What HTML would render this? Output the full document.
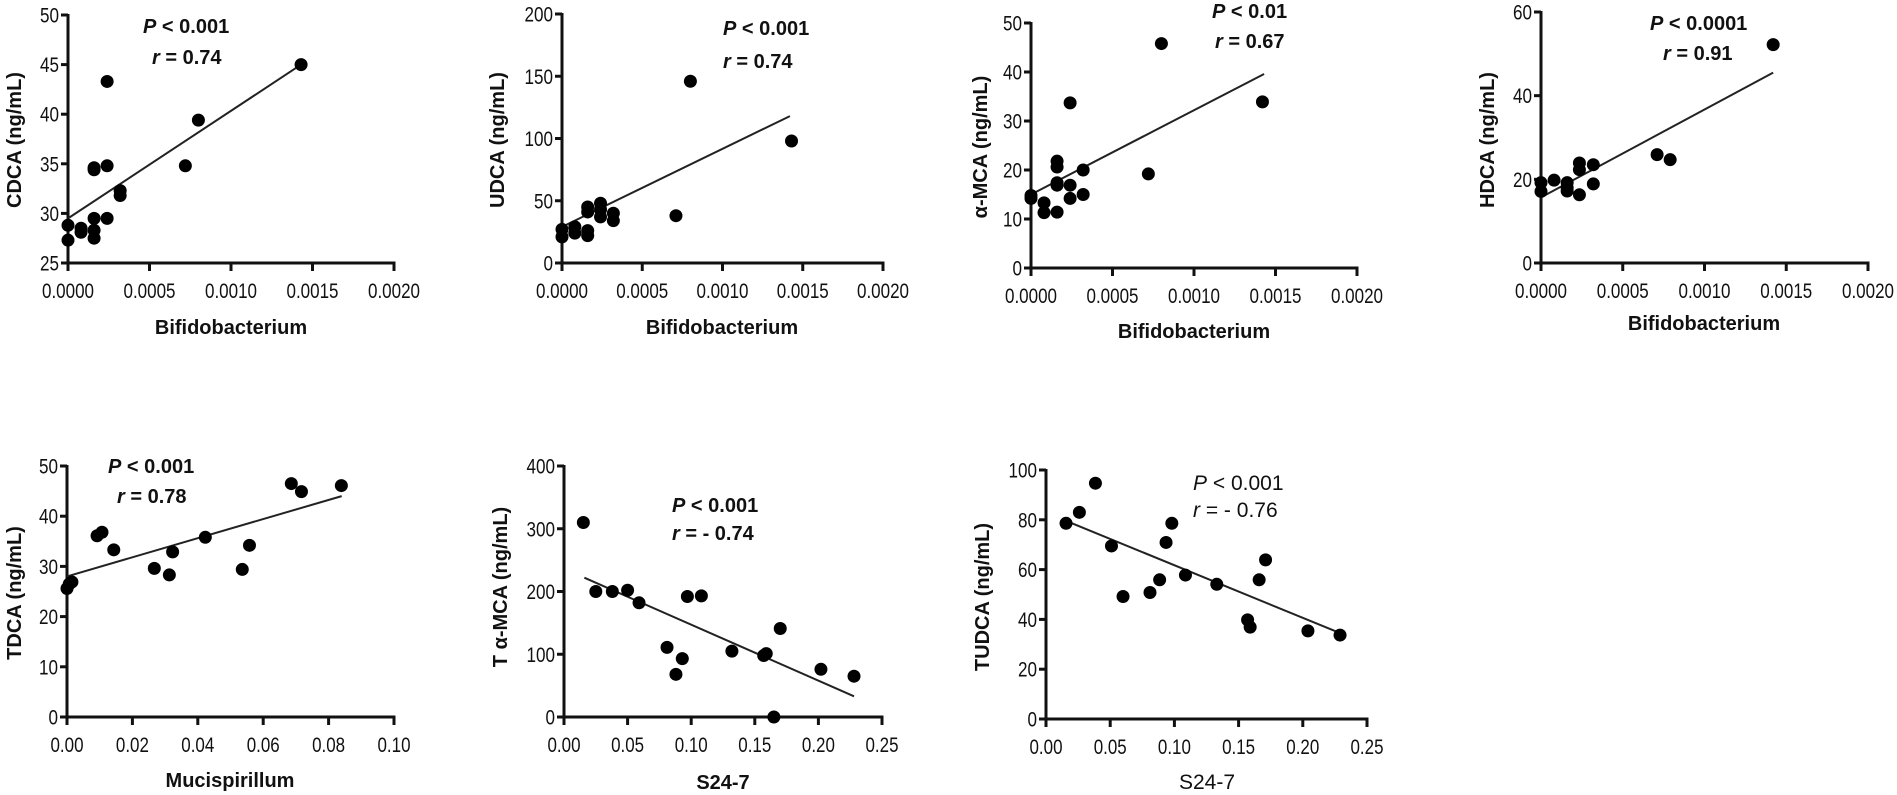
<!DOCTYPE html>
<html><head><meta charset="utf-8"><style>
html,body{margin:0;padding:0;background:#fff;}
svg{display:block;}
.t{font-family:"Liberation Sans Narrow","Liberation Sans",sans-serif;font-size:21px;fill:#111;}
.l{font-family:"Liberation Sans",sans-serif;font-size:20px;font-weight:bold;fill:#111;}
.s{font-family:"Liberation Sans",sans-serif;font-size:20px;font-weight:bold;fill:#111;}
.n{font-family:"Liberation Sans",sans-serif;font-size:21px;fill:#111;}
</style></head><body>
<svg id="c" width="1897" height="795" xmlns="http://www.w3.org/2000/svg"></svg>
<script>
var svg=document.getElementById('c'),h='';
function tl(s){var w=0;for(var i=0;i<s.length;i++)w+=(s[i]=='.'?4.5:9.5);return w;}
function P(o){
 var W=o.x1-o.x0,H=o.yb-o.yt;
 function X(v){return o.x0+(v-o.xmin)/(o.xmax-o.xmin)*W;}
 function Y(v){return o.yb-(v-o.ymin)/(o.ymax-o.ymin)*H;}
 h+='<line x1="'+o.x0+'" y1="'+(o.yt-1)+'" x2="'+o.x0+'" y2="'+(o.yb+1.5)+'" stroke="#111" stroke-width="3"/>';
 h+='<line x1="'+(o.x0-1.5)+'" y1="'+o.yb+'" x2="'+(o.x1+1.5)+'" y2="'+o.yb+'" stroke="#111" stroke-width="3"/>';
 o.yt_.forEach(function(v){var y=Y(v),s=''+v;h+='<line x1="'+(o.x0-7)+'" y1="'+y+'" x2="'+o.x0+'" y2="'+y+'" stroke="#111" stroke-width="3"/>';
  h+='<text class="t" x="'+(o.x0-9)+'" y="'+(y+7.5)+'" text-anchor="end" textLength="'+tl(s)+'" lengthAdjust="spacingAndGlyphs">'+s+'</text>';});
 o.xt_.forEach(function(v,i){var x=X(v),s=o.xl[i];h+='<line x1="'+x+'" y1="'+o.yb+'" x2="'+x+'" y2="'+(o.yb+8)+'" stroke="#111" stroke-width="3"/>';
  h+='<text class="t" x="'+x+'" y="'+(o.yb+35)+'" text-anchor="middle" textLength="'+tl(s)+'" lengthAdjust="spacingAndGlyphs">'+s+'</text>';});
 h+='<line x1="'+X(o.ln[0])+'" y1="'+Y(o.ln[1])+'" x2="'+X(o.ln[2])+'" y2="'+Y(o.ln[3])+'" stroke="#222" stroke-width="2"/>';
 o.d.forEach(function(p){h+='<circle cx="'+X(p[0])+'" cy="'+Y(p[1])+'" r="6.5" fill="#000"/>';});
 h+='<text class="l" x="'+o.yl[0]+'" y="'+o.yl[1]+'" text-anchor="middle" transform="rotate(-90 '+o.yl[0]+' '+o.yl[1]+')" dy="7">'+o.yl[2]+'</text>';
 h+='<text class="'+(o.norm?'n':'l')+'" x="'+o.xla[0]+'" y="'+o.xla[1]+'" text-anchor="middle">'+o.xla[2]+'</text>';
 var c=o.norm?'n':'s';
 h+='<text class="'+c+'" x="'+o.st[0]+'" y="'+o.st[1]+'"><tspan font-style="italic">P</tspan> &lt; '+o.st[2]+'</text>';
 h+='<text class="'+c+'" x="'+o.st[3]+'" y="'+o.st[4]+'"><tspan font-style="italic">r</tspan> = '+o.st[5]+'</text>';
}
var bx=[0,5,10,15,20],bl=['0.0000','0.0005','0.0010','0.0015','0.0020'];
P({x0:68,x1:394,yt:15,yb:263,xmin:0,xmax:20,ymin:25,ymax:50,yt_:[25,30,35,40,45,50],xt_:bx,xl:bl,
 ln:[0,29.5,14.3,45],yl:[14,140,'CDCA (ng/mL)'],xla:[231,334,'Bifidobacterium'],st:[143,33,'0.001',152,64,'0.74'],
 d:[[14.3,45],[2.4,43.3],[8,39.4],[7.2,34.8],[1.6,34.6],[1.6,34.4],[2.4,34.8],[3.2,32.3],[3.2,31.8],[1.6,29.5],[2.4,29.5],[1.6,28.3],[1.6,27.5],[0.8,28.5],[0.8,28.1],[0,28.8],[0,27.3]]});
P({x0:562,x1:883,yt:14,yb:263,xmin:0,xmax:20,ymin:0,ymax:200,yt_:[0,50,100,150,200],xt_:bx,xl:bl,
 ln:[0,29,14.2,118],yl:[497,140,'UDCA (ng/mL)'],xla:[722,334,'Bifidobacterium'],st:[723,35,'0.001',723,68,'0.74'],
 d:[[8,146],[14.3,98],[7.1,38],[0,27],[0,21],[0.8,29],[0.8,24],[1.6,45],[1.6,41],[1.6,26],[1.6,22],[2.4,48],[2.4,43],[2.4,37],[3.2,40],[3.2,34]]});
P({x0:1031,x1:1357,yt:23,yb:268,xmin:0,xmax:20,ymin:0,ymax:50,yt_:[0,10,20,30,40,50],xt_:bx,xl:bl,
 ln:[0,15,14.3,39.6],yl:[980,147,'α-MCA (ng/mL)'],xla:[1194,338,'Bifidobacterium'],st:[1212,18,'0.01',1215,48,'0.67'],
 d:[[8,45.8],[2.4,33.7],[14.2,33.9],[7.2,19.2],[1.6,21.8],[1.6,20.6],[1.6,17.4],[1.6,16.9],[2.4,16.9],[2.4,14.2],[3.2,20],[3.2,15],[0.8,13.3],[0.8,11.3],[1.6,11.4],[0,14.8],[0,14.2]]});
P({x0:1541,x1:1868,yt:12,yb:263,xmin:0,xmax:20,ymin:0,ymax:60,yt_:[0,20,40,60],xt_:bx,xl:bl,
 ln:[0,15.7,14.2,45.5],yl:[1487,140,'HDCA (ng/mL)'],xla:[1704,330,'Bifidobacterium'],st:[1650,30,'0.0001',1663,60,'0.91'],
 d:[[14.2,52.2],[7.1,25.9],[7.9,24.7],[0,19.2],[0,17.1],[0.8,19.8],[1.6,19.2],[1.6,18],[1.6,17.2],[2.35,23.9],[2.35,22.3],[2.35,16.3],[3.2,23.5],[3.2,18.9]]});
P({x0:67,x1:394,yt:466,yb:717,xmin:0,xmax:10,ymin:0,ymax:50,yt_:[0,10,20,30,40,50],xt_:[0,2,4,6,8,10],xl:['0.00','0.02','0.04','0.06','0.08','0.10'],
 ln:[0,28,8.4,44],yl:[14,593,'TDCA (ng/mL)'],xla:[230,787,'Mucispirillum'],st:[108,473,'0.001',117,503,'0.78'],
 d:[[6.86,46.5],[7.17,44.9],[8.39,46.1],[0.92,36.1],[1.07,36.8],[1.43,33.3],[2.67,29.6],[3.13,28.3],[3.23,32.9],[4.23,35.8],[5.36,29.4],[5.58,34.2],[0,25.6],[0.07,26.5],[0.15,26.9]]});
var sx=[0,0.05,0.1,0.15,0.2,0.25],sl=['0.00','0.05','0.10','0.15','0.20','0.25'];
P({x0:564,x1:882,yt:466,yb:717,xmin:0,xmax:0.25,ymin:0,ymax:400,yt_:[0,100,200,300,400],xt_:sx,xl:sl,
 ln:[0.016,222,0.228,33],yl:[500,587,'T α-MCA (ng/mL)'],xla:[723,789,'S24-7'],st:[672,512,'0.001',672,540,'- 0.74'],
 d:[[0.0152,310],[0.025,200],[0.038,200],[0.05,202],[0.059,182],[0.081,111],[0.088,68],[0.093,93],[0.097,192],[0.108,193],[0.132,105],[0.157,98],[0.159,101],[0.165,0],[0.170,141],[0.202,76],[0.228,65]]});
P({x0:1046,x1:1367,yt:470,yb:719,xmin:0,xmax:0.25,ymin:0,ymax:100,yt_:[0,20,40,60,80,100],xt_:sx,xl:sl,
 ln:[0.016,79.5,0.229,34.5],yl:[982,597,'TUDCA (ng/mL)'],xla:[1207,789,'S24-7'],st:[1193,490,'0.001',1193,517,'- 0.76'],norm:true,
 d:[[0.0156,78.6],[0.026,83],[0.0385,94.7],[0.051,69.5],[0.06,49.2],[0.081,50.8],[0.0885,55.9],[0.0935,70.9],[0.098,78.6],[0.1086,57.8],[0.133,54.1],[0.157,39.8],[0.159,36.9],[0.166,55.9],[0.171,63.9],[0.204,35.4],[0.229,33.7]]});
svg.innerHTML=h;
</script>
</body></html>
